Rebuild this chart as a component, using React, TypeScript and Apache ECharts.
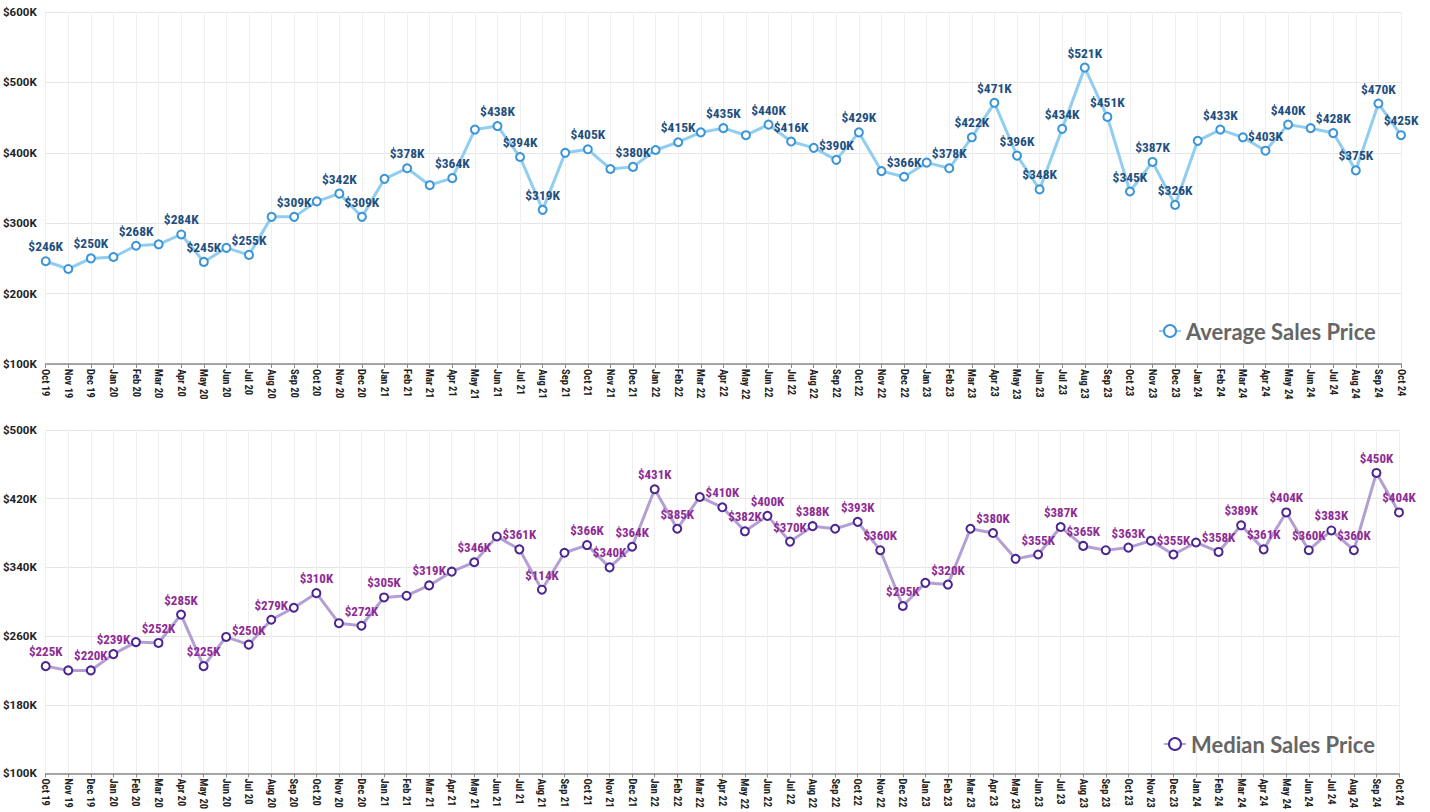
import { useEffect, useRef } from "react";
import * as echarts from "echarts";

const months: string[] = [
  "Oct 19", "Nov 19", "Dec 19", "Jan 20", "Feb 20", "Mar 20", "Apr 20", "May 20", "Jun 20", "Jul 20",
  "Aug 20", "Sep 20", "Oct 20", "Nov 20", "Dec 20", "Jan 21", "Feb 21", "Mar 21", "Apr 21", "May 21",
  "Jun 21", "Jul 21", "Aug 21", "Sep 21", "Oct 21", "Nov 21", "Dec 21", "Jan 22", "Feb 22", "Mar 22",
  "Apr 22", "May 22", "Jun 22", "Jul 22", "Aug 22", "Sep 22", "Oct 22", "Nov 22", "Dec 22", "Jan 23",
  "Feb 23", "Mar 23", "Apr 23", "May 23", "Jun 23", "Jul 23", "Aug 23", "Sep 23", "Oct 23", "Nov 23",
  "Dec 23", "Jan 24", "Feb 24", "Mar 24", "Apr 24", "May 24", "Jun 24", "Jul 24", "Aug 24", "Sep 24",
  "Oct 24",
];

// Average sales price, in thousands of dollars
const averagePrice: number[] = [
  246, 235, 250, 252, 268, 270, 284, 245, 265, 255,
  309, 309, 331, 342, 309, 363, 378, 354, 364, 433,
  438, 394, 319, 400, 405, 377, 380, 404, 415, 429,
  435, 425, 440, 416, 407, 390, 429, 374, 366, 386,
  378, 422, 471, 396, 348, 434, 521, 451, 345, 387,
  326, 417, 433, 422, 403, 440, 435, 428, 375, 470,
  425,
];

const averageLabels: string[] = [
  "$246K", "", "$250K", "", "$268K", "", "$284K", "$245K", "", "$255K",
  "", "$309K", "", "$342K", "$309K", "", "$378K", "", "$364K", "",
  "$438K", "$394K", "$319K", "", "$405K", "", "$380K", "", "$415K", "",
  "$435K", "", "$440K", "$416K", "", "$390K", "$429K", "", "$366K", "",
  "$378K", "$422K", "$471K", "$396K", "$348K", "$434K", "$521K", "$451K", "$345K", "$387K",
  "$326K", "", "$433K", "", "$403K", "$440K", "", "$428K", "$375K", "$470K",
  "$425K",
];

// Median sales price, in thousands of dollars
const medianPrice: number[] = [
  225, 220, 220, 239, 253, 252, 285, 225, 259, 250,
  279, 293, 310, 275, 272, 305, 307, 319, 335, 346,
  376, 361, 314, 357, 366, 340, 364, 431, 385, 422,
  410, 382, 400, 370, 388, 385, 393, 360, 295, 322,
  320, 385, 380, 350, 355, 387, 365, 360, 363, 371,
  355, 369, 358, 389, 361, 404, 360, 383, 360, 450,
  404,
];

const medianLabels: string[] = [
  "$225K", "", "$220K", "$239K", "", "$252K", "$285K", "$225K", "", "$250K",
  "$279K", "", "$310K", "", "$272K", "$305K", "", "$319K", "", "$346K",
  "", "$361K", "$114K", "", "$366K", "$340K", "$364K", "$431K", "$385K", "",
  "$410K", "$382K", "$400K", "$370K", "$388K", "", "$393K", "$360K", "$295K", "",
  "$320K", "", "$380K", "", "$355K", "$387K", "$365K", "", "$363K", "",
  "$355K", "", "$358K", "$389K", "$361K", "$404K", "$360K", "$383K", "$360K", "$450K",
  "$404K",
];

const averageTicks = { min: 100, max: 600, interval: 100 };
const medianTicks = { min: 100, max: 500, interval: 80 };

const AVG_NAME = "Average Sales Price";
const MED_NAME = "Median Sales Price";

const LABEL_FONT = "'Roboto Condensed', 'Liberation Sans Narrow', Roboto, sans-serif";

function buildData(values: number[], labels: string[]) {
  return values.map((v, i) => ({
    value: v,
    label: { show: labels[i] !== "", formatter: labels[i] || "" },
  }));
}

export default function App() {
  const ref = useRef<HTMLDivElement>(null);

  useEffect(() => {
    if (!ref.current) return;
    const chart = echarts.init(ref.current, null, { renderer: "svg" });

    const xAxisBase = (gridIndex: number) => ({
      type: "category" as const,
      gridIndex,
      data: months,
      boundaryGap: false,
      axisLine: { show: true, lineStyle: { color: "#8a8a8a", width: 1.5 } },
      axisTick: { show: true, length: 4, lineStyle: { color: "#8a8a8a" } },
      axisLabel: {
        rotate: -90,
        interval: 0,
        margin: 5,
        color: "#222",
        fontWeight: "bold" as const,
        fontSize: 10.5,
        fontFamily: LABEL_FONT,
      },
      splitLine: { show: true, lineStyle: { color: "#efefef", width: 1 } },
    });

    const yAxisBase = (gridIndex: number, ticks: { min: number; max: number; interval: number }) => ({
      type: "value" as const,
      gridIndex,
      min: ticks.min,
      max: ticks.max,
      interval: ticks.interval,
      axisLine: { show: false },
      axisTick: { show: false },
      axisLabel: {
        color: "#222",
        fontWeight: "bold" as const,
        fontSize: 11.5,
        fontFamily: "Roboto, sans-serif",
        margin: 9,
        formatter: (v: number) => `$${v}K`,
      },
      splitLine: { show: true, lineStyle: { color: "#e6e6e6", width: 1 } },
    });

    chart.setOption({
      animation: false,
      backgroundColor: "#ffffff",
      grid: [
        { left: 45, right: 29, top: 12, bottom: 448, containLabel: false },
        { left: 43, right: 31, top: 430, bottom: 30, containLabel: false },
      ],
      legend: [
        {
          data: [AVG_NAME],
          left: 1153,
          top: 315,
          itemWidth: 22,
          itemHeight: 15,
          itemGap: 8,
          textStyle: { fontSize: 22, fontWeight: "bold", color: "#666", fontFamily: "Lato, 'Open Sans', sans-serif" },
        },
        {
          data: [MED_NAME],
          left: 1158,
          top: 728,
          itemWidth: 22,
          itemHeight: 15,
          itemGap: 8,
          textStyle: { fontSize: 22, fontWeight: "bold", color: "#666", fontFamily: "Lato, 'Open Sans', sans-serif" },
        },
      ],
      xAxis: [xAxisBase(0), xAxisBase(1)],
      yAxis: [yAxisBase(0, averageTicks), yAxisBase(1, medianTicks)],
      series: [
        {
          name: AVG_NAME,
          type: "line",
          xAxisIndex: 0,
          yAxisIndex: 0,
          data: buildData(averagePrice, averageLabels),
          symbol: "emptyCircle",
          symbolSize: 8,
          showAllSymbol: true,
          lineStyle: { color: "#90cdf0", width: 3 },
          itemStyle: { color: "#3a94d8", borderColor: "#3a94d8", borderWidth: 2.2 },
          label: {
            position: "top",
            distance: 3,
            color: "#1f4f7e",
            fontWeight: "bold",
            fontSize: 13.5,
            fontFamily: LABEL_FONT,
          },
          labelLayout: { hideOverlap: false },
        },
        {
          name: MED_NAME,
          type: "line",
          xAxisIndex: 1,
          yAxisIndex: 1,
          data: buildData(medianPrice, medianLabels),
          symbol: "emptyCircle",
          symbolSize: 8,
          showAllSymbol: true,
          lineStyle: { color: "#b49fd4", width: 3 },
          itemStyle: { color: "#4b2590", borderColor: "#4b2590", borderWidth: 2.5 },
          label: {
            position: "top",
            distance: 3,
            color: "#8e2b94",
            fontWeight: "bold",
            fontSize: 13,
            fontFamily: LABEL_FONT,
          },
          labelLayout: { hideOverlap: false },
        },
      ],
    });

    return () => chart.dispose();
  }, []);

  return (
    <div
      ref={ref}
      style={{ position: "absolute", left: 0, top: 0, width: 1430, height: 812 }}
    />
  );
}
